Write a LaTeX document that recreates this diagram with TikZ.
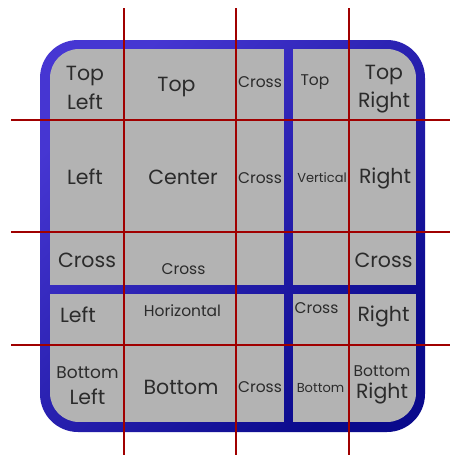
\documentclass[tikz,border=0pt]{standalone}
\usepackage{fontspec}
\setmainfont{Poppins}
\usepackage{tikz}
\definecolor{frameA}{HTML}{4636D2}
\definecolor{frameB}{HTML}{0A0A8C}
\definecolor{panelgray}{HTML}{B3B3B3}
\definecolor{guidered}{HTML}{A00000}
\definecolor{labelgray}{HTML}{2B2B2B}

\begin{document}
\begin{tikzpicture}[x=1pt, y=-1pt,
    frame/.style={rounded corners=38pt, top color=frameA, bottom color=frameB, shading angle=45},
    panel/.style={fill=panelgray},
    guide/.style={draw=guidered, line width=2pt},
    lbl/.style={text=labelgray, align=center, inner sep=0pt, font=\fontsize{#1}{#1}\selectfont},
    big/.style={lbl=20.5},
    mid/.style={lbl=15.5},
    small/.style={lbl=13}
  ]
  \useasboundingbox (0,0) rectangle (450,455);
  % frame
  \shade[frame] (40,40) rectangle (425,432);
  % gray panels
  \begin{scope}
    \clip[rounded corners=29pt] (50,49) rectangle (416,422);
    \fill[panel] (50,49) rectangle (284,285);
    \fill[panel] (293,49) rectangle (416,285);
    \fill[panel] (50,294) rectangle (284,422);
    \fill[panel] (293,294) rectangle (416,422);
  \end{scope}
  % guides
  \foreach \x in {124,236,349} \draw[guide] (\x,8) -- (\x,455);
  \foreach \y in {120,232,345} \draw[guide] (11,\y) -- (450,\y);
  % labels, top row
  \node[big] (topleft) at (85,87.5) {Top\\[7pt]Left};
  \node[big] (top) at (176.5,87) {Top};
  \node[mid] (crosstop) at (260,82) {Cross};
  \node[mid] (topv) at (315,82.5) {Top};
  \node[big] (topright) at (384,89) {Top\\[5.5pt]Right};
  % middle row
  \node[big] (left) at (85,176.5) {Left};
  \node[big] (center) at (183,177.5) {Center};
  \node[mid] (crossmid) at (260,178) {Cross};
  \node[small] (vertical) at (322,178) {Vertical};
  \node[big] (right) at (385,178) {Right};
  % cross row
  \node[big] (crossleft) at (87,260) {Cross};
  \node[mid] (crossh) at (183.5,269) {Cross};
  \node[big] (crossright) at (383.5,260) {Cross};
  % band row
  \node[big] (lefth) at (78,314.5) {Left};
  \node[mid] (horizontal) at (182.5,311) {Horizontal};
  \node[mid] (crossband) at (316.5,308.5) {Cross};
  \node[big] (righth) at (383.5,316) {Right};
  % bottom row
  \node[big] (bottomleft) at (87.5,385.5) {{\fontsize{17}{17}\selectfont Bottom}\\[5pt]Left};
  \node[big] (bottom) at (181,387.5) {Bottom};
  \node[mid] (crossbot) at (260,387.5) {Cross};
  \node[small] (bottomv) at (320.5,388) {Bottom};
  \node[big] (bottomright) at (382,385) {{\fontsize{15.5}{15.5}\selectfont Bottom}\\[1.5pt]Right};
\end{tikzpicture}
\end{document}
